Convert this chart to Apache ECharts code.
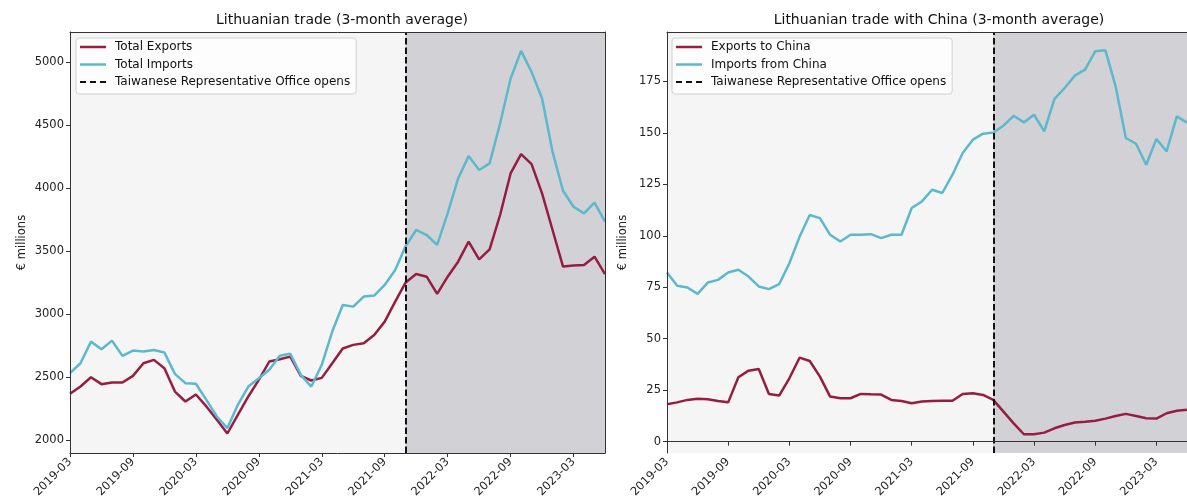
<!DOCTYPE html>
<html><head><meta charset="utf-8">
<script src="https://cdn.jsdelivr.net/npm/echarts@6/dist/echarts.min.js"></script>
<style>html,body{margin:0;padding:0;background:#fff}#c{width:1187px;height:502px}</style>
</head><body><div id="c"></div>
<script>
var months = ['2019-03','2019-04','2019-05','2019-06','2019-07','2019-08','2019-09','2019-10','2019-11','2019-12',
'2020-01','2020-02','2020-03','2020-04','2020-05','2020-06','2020-07','2020-08','2020-09','2020-10','2020-11','2020-12',
'2021-01','2021-02','2021-03','2021-04','2021-05','2021-06','2021-07','2021-08','2021-09','2021-10','2021-11','2021-12',
'2022-01','2022-02','2022-03','2022-04','2022-05','2022-06','2022-07','2022-08','2022-09','2022-10','2022-11','2022-12',
'2023-01','2023-02','2023-03','2023-04','2023-05','2023-06'];
var tickLabels = ['2019-03','2019-09','2020-03','2020-09','2021-03','2021-09','2022-03','2022-09','2023-03'];
var totalExports = [2365,2423,2497,2442,2455,2455,2508,2608,2635,2569,2383,2304,2360,2265,2159,2050,2198,2344,2476,2622,2640,2661,2508,2471,2492,2608,2725,2754,2767,2833,2939,3098,3250,3317,3296,3159,3296,3415,3574,3434,3513,3786,4116,4270,4190,3958,3667,3376,3384,3389,3455,3317];
var totalImports = [2529,2608,2780,2720,2788,2667,2709,2701,2714,2693,2524,2450,2445,2317,2185,2093,2278,2423,2489,2556,2667,2683,2516,2423,2595,2860,3071,3058,3138,3146,3230,3349,3540,3667,3627,3548,3799,4077,4254,4143,4196,4513,4870,5090,4923,4712,4288,3979,3852,3799,3884,3733];
var exportsChina = [18.2,19.1,20.3,20.8,20.6,19.8,19.1,31.3,34.5,35.3,23.2,22.4,30.8,40.8,39.2,31.6,21.9,21.1,21.1,23.2,23.0,22.9,20.3,19.8,18.7,19.5,19.8,19.9,19.9,23.2,23.5,22.7,20.3,14.6,8.9,3.6,3.6,4.4,6.5,8.1,9.3,9.7,10.2,11.2,12.5,13.5,12.5,11.4,11.2,13.8,15.0,15.5];
var importsChina = [82.2,75.7,74.9,71.8,77.3,78.6,82.2,83.5,80.2,75.4,74.1,76.5,86.7,99.5,110.1,108.6,100.5,97.2,100.5,100.5,100.8,98.9,100.5,100.5,113.5,116.7,122.4,120.8,129.7,140.2,146.7,149.6,150.2,153.5,158.3,155.1,158.8,150.7,166.5,171.8,177.8,180.7,189.6,190.1,172.6,147.5,144.7,134.5,147.0,141.0,158.0,155.0];
var leftTicks = [2000,2500,3000,3500,4000,4500,5000];
var rightTicks = [0,25,50,75,100,125,150,175];
var officeMonth = '2021-11';
var names = {
  ex: 'Total Exports', im: 'Total Imports',
  exC: 'Exports to China', imC: 'Imports from China',
  office: 'Taiwanese Representative Office opens'
};

var FONT = 'DejaVu Sans';
var RED = '#961d40', BLUE = '#5cb8cc';
var SOLID_ICON = 'path://M0,0h26v2.5H0z';
var DASH_ICON = 'path://M0,0h6v2H0zM10,0h6v2H10zM20,0h6v2H20z';
var tickSet = {}; tickLabels.forEach(function(t){tickSet[t]=true;});
function isTick(i){ return !!tickSet[months[i]]; }

function xAxisMain(g){
  return {type:'category', gridIndex:g, data:months, boundaryGap:false, z:5,
    axisLine:{show:true,lineStyle:{color:'#333',width:1}},
    axisTick:{show:true,alignWithLabel:true,interval:function(i){return isTick(i);},length:4,lineStyle:{color:'#333'}},
    axisLabel:{interval:function(i){return isTick(i);},rotate:45,fontFamily:FONT,fontSize:11.5,color:'#222',margin:7},
    splitLine:{show:false}};
}
function xAxisTop(g){
  return {type:'category', gridIndex:g, data:months, boundaryGap:false, position:'top', z:5,
    axisLine:{show:true,onZero:false,lineStyle:{color:'#333',width:1}},
    axisTick:{show:false}, axisLabel:{show:false}, splitLine:{show:false}};
}
function yAxisMain(g,min,max,ticks){
  return {type:'value', gridIndex:g, min:min, max:max, z:5,
    name:'€ millions', nameLocation:'middle', nameGap:g===0?42:38, nameRotate:90,
    nameTextStyle:{fontFamily:FONT,fontSize:11.5,color:'#222'},
    axisLine:{show:true,onZero:false,lineStyle:{color:'#333',width:1}},
    axisTick:{show:true,length:4,customValues:ticks,lineStyle:{color:'#333'}},
    axisLabel:{customValues:ticks,formatter:function(v){return String(v);},fontFamily:FONT,fontSize:11.5,color:'#222',margin:6},
    splitLine:{show:false}};
}
function yAxisRight(g,min,max){
  return {type:'value', gridIndex:g, min:min, max:max, position:'right', z:5,
    axisLine:{show:true,onZero:false,lineStyle:{color:'#333',width:1}},
    axisTick:{show:false}, axisLabel:{show:false}, splitLine:{show:false}};
}
function officeSeries(x,y){
  return {name:names.office, type:'line', xAxisIndex:x, yAxisIndex:y, data:[], symbol:'none',
    itemStyle:{color:'#111'},
    lineStyle:{color:'#111',type:[6.5,3],width:2},
    markArea:{silent:true, itemStyle:{color:'#d2d2d6'}, data:[[{xAxis:officeMonth},{xAxis:months[months.length-1]}]]},
    markLine:{silent:true, symbol:'none', label:{show:false}, lineStyle:{color:'#111',type:[6.5,3],width:2}, data:[{xAxis:officeMonth}]}};
}
function lineSeries(name,data,color,x,y){
  return {name:name, type:'line', xAxisIndex:x, yAxisIndex:y, data:data, symbol:'none', z:3,
    lineStyle:{color:color,width:2.5}, itemStyle:{color:color}};
}
function legend(left,a,b){
  return {orient:'vertical', left:left, top:38,
    data:[{name:a,icon:SOLID_ICON},{name:b,icon:SOLID_ICON},{name:names.office,icon:DASH_ICON}],
    itemWidth:26, itemHeight:14, itemGap:5.5, itemStyle:{borderWidth:0}, lineStyle:{width:0},
    padding:[3,6,6,4], backgroundColor:'rgba(255,255,255,0.75)', borderColor:'#d0d0d0', borderWidth:1, borderRadius:3,
    textStyle:{fontFamily:FONT,fontSize:12,color:'#111',padding:[0,0,0,4]}, selectedMode:false};
}

var chart = echarts.init(document.getElementById('c'), null, {renderer:'canvas'});
chart.setOption({
  animation:false,
  textStyle:{fontFamily:FONT},
  title:[
    {text:'Lithuanian trade (3-month average)', left:337, top:8, textAlign:'center', textStyle:{fontFamily:FONT,fontSize:14,fontWeight:'normal',color:'#111'}},
    {text:'Lithuanian trade with China (3-month average)', left:934, top:8, textAlign:'center', textStyle:{fontFamily:FONT,fontSize:14,fontWeight:'normal',color:'#111'}}
  ],
  legend:[legend(76,names.ex,names.im), legend(672,names.exC,names.imC)],
  grid:[
    {left:70, top:32, width:535, height:421, show:true, backgroundColor:'#f5f5f5', borderWidth:0},
    {left:667, top:32, width:535, height:421, show:true, backgroundColor:'#f5f5f5', borderWidth:0}
  ],
  xAxis:[xAxisMain(0), xAxisMain(1), xAxisTop(0), xAxisTop(1)],
  yAxis:[yAxisMain(0,1895,5240,leftTicks), yAxisMain(1,-5.5,199,rightTicks), yAxisRight(0,1895,5240), yAxisRight(1,-5.5,199)],
  series:[
    officeSeries(0,0),
    lineSeries(names.ex,totalExports,RED,0,0),
    lineSeries(names.im,totalImports,BLUE,0,0),
    officeSeries(1,1),
    lineSeries(names.exC,exportsChina,RED,1,1),
    lineSeries(names.imC,importsChina,BLUE,1,1)
  ]
});
</script></body></html>
